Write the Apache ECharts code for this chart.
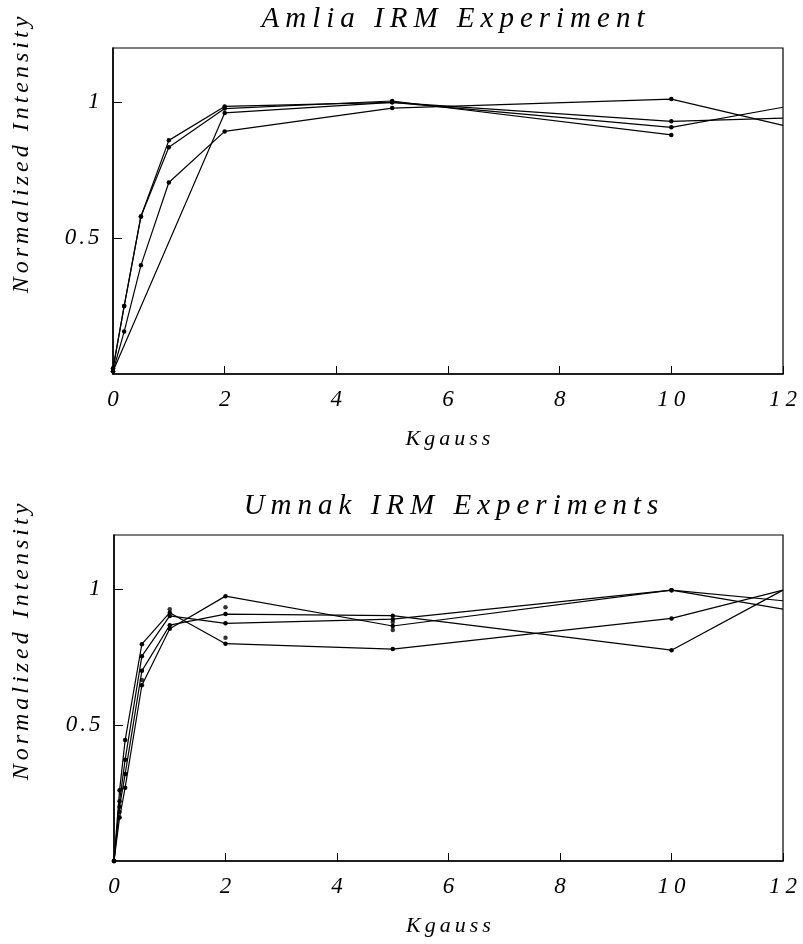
<!DOCTYPE html>
<html>
<head>
<meta charset="utf-8">
<script src="https://cdn.jsdelivr.net/npm/echarts@6/dist/echarts.min.js"></script>
<style>
    html, body { margin: 0; padding: 0; background: #fff; }
    #chart { width: 803px; height: 944px; }
</style>
</head>
<body>
<div id="chart"></div>
<script>
// Amlia IRM: four samples, not all measured at the same fields
const amlia1X = [0, 0.2, 0.5, 1, 2, 5, 10, 12];
const amlia1 = [0.02, 0.25, 0.58, 0.86, 0.985, 1.0, 0.93, 0.942];
const amlia2X = [0, 0.2, 0.5, 1, 2, 5, 10];
const amlia2 = [0.02, 0.25, 0.58, 0.835, 0.977, 1.005, 0.88];
const amlia3X = [0, 0.2, 0.5, 1, 2, 5, 10, 12];
const amlia3 = [0.01, 0.156, 0.40, 0.705, 0.893, 0.979, 1.012, 0.915];
const amlia4X = [0, 2, 5, 10, 12];
const amlia4 = [0.01, 0.961, 1.0, 0.908, 0.982];

// Umnak IRM
const umnakX = [0, 0.1, 0.2, 0.5, 1, 2, 5, 10, 12];
const umnak1 = [0, 0.16, 0.27, 0.647, 0.855, 0.975, 0.865, 0.997, 0.958];
const umnak2 = [0, 0.2, 0.32, 0.70, 0.868, 0.909, 0.903, 0.776, 0.997];
const umnak3 = [0, 0.22, 0.373, 0.754, 0.902, 0.875, 0.89, 0.997, 0.927];
const umnak4 = [0, 0.26, 0.445, 0.798, 0.914, 0.80, 0.78, 0.893, 0.997];
// loose points that are not on a drawn line
const umnakExtraX = [0.1, 0.5, 1, 2, 2, 5, 5];
const umnakExtra = [0.18, 0.666, 0.927, 0.934, 0.822, 0.85, 0.88];

const xTicks = [0, 2, 4, 6, 8, 10, 12];
const yTicks = [0.5, 1];
const yTickText = { 0.5: "0.5", 1: "1" };

(function () {
    let myChart = echarts.init(document.getElementById("chart"));

    // wide letter spacing of the original: one rich fragment per character
    function spaced(str) {
        return str.split("").map(function (c) { return "{c|" + c + "}"; }).join("");
    }
    function richStyle(size, pad) {
        return {
            c: {
                fontFamily: "Liberation Serif",
                fontStyle: "italic",
                fontWeight: "normal",
                fontSize: size,
                color: "#000",
                padding: [0, pad]
            }
        };
    }
    function pairs(xs, ys) {
        return xs.map(function (x, i) { return [x, ys[i]]; });
    }

    let grids = [
        { left: 113, top: 48, width: 670, height: 326 },
        { left: 114, top: 535, width: 669, height: 326 }
    ];

    function xAxis(idx) {
        return {
            type: "value",
            gridIndex: idx,
            min: 0,
            max: 12,
            interval: 2,
            name: spaced("Kgauss"),
            nameLocation: "middle",
            nameGap: 54,
            nameTextStyle: { rich: richStyle(22, 2) },
            axisLine: { show: true, lineStyle: { color: "#000", width: 1.5 } },
            axisTick: { show: true, inside: true, length: 8, lineStyle: { color: "#000" } },
            axisLabel: {
                margin: 14,
                formatter: function (v) { return spaced(String(v)); },
                rich: richStyle(23, 2.5)
            },
            splitLine: { show: false }
        };
    }
    function yAxis(idx) {
        return {
            type: "value",
            gridIndex: idx,
            min: 0,
            max: 1.2,
            axisLine: { show: true, lineStyle: { color: "#000", width: 1.5 } },
            axisTick: { show: true, inside: true, length: 9, customValues: yTicks, lineStyle: { color: "#000" } },
            axisLabel: {
                margin: 12,
                customValues: yTicks,
                formatter: function (v) { return spaced(yTickText[v]); },
                rich: richStyle(23, 1.5)
            },
            splitLine: { show: false }
        };
    }

    function line(idx, data) {
        return {
            type: "line",
            xAxisIndex: idx,
            yAxisIndex: idx,
            data: data,
            symbol: "circle",
            symbolSize: function (v) { return v[0] >= 12 ? 0 : 4.5; },
            lineStyle: { color: "#000", width: 1.2 },
            itemStyle: { color: "#000" },
            silent: true,
            animation: false
        };
    }

    let option = {
        backgroundColor: "#fff",
        title: [
            { text: spaced("Amlia IRM Experiment"), left: 448, top: 0, textAlign: "center", textStyle: { rich: richStyle(29, 3) } },
            { text: spaced("Umnak IRM Experiments"), left: 446, top: 487, textAlign: "center", textStyle: { rich: richStyle(29, 3) } }
        ],
        grid: grids.map(function (g) {
            return Object.assign({ show: true, borderColor: "#000", borderWidth: 1.2, backgroundColor: "transparent" }, g);
        }),
        xAxis: [xAxis(0), xAxis(1)],
        yAxis: [yAxis(0), yAxis(1)],
        graphic: [
            {
                type: "text", x: 22, y: 155, rotation: Math.PI / 2,
                style: { text: spaced("Normalized Intensity"), rich: richStyle(24, 2), align: "center", verticalAlign: "middle" }
            },
            {
                type: "text", x: 22, y: 642, rotation: Math.PI / 2,
                style: { text: spaced("Normalized Intensity"), rich: richStyle(24, 2), align: "center", verticalAlign: "middle" }
            }
        ],
        series: [
            line(0, pairs(amlia1X, amlia1)),
            line(0, pairs(amlia2X, amlia2)),
            line(0, pairs(amlia3X, amlia3)),
            line(0, pairs(amlia4X, amlia4)),
            line(1, pairs(umnakX, umnak1)),
            line(1, pairs(umnakX, umnak2)),
            line(1, pairs(umnakX, umnak3)),
            line(1, pairs(umnakX, umnak4)),
            {
                type: "scatter",
                xAxisIndex: 1,
                yAxisIndex: 1,
                data: pairs(umnakExtraX, umnakExtra),
                symbol: "circle",
                symbolSize: 4.5,
                itemStyle: { color: "#000" },
                silent: true,
                animation: false
            }
        ]
    };
    myChart.setOption(option);
    window.addEventListener("resize", function () {
        myChart.resize();
    });
})();
</script>
</body>
</html>
